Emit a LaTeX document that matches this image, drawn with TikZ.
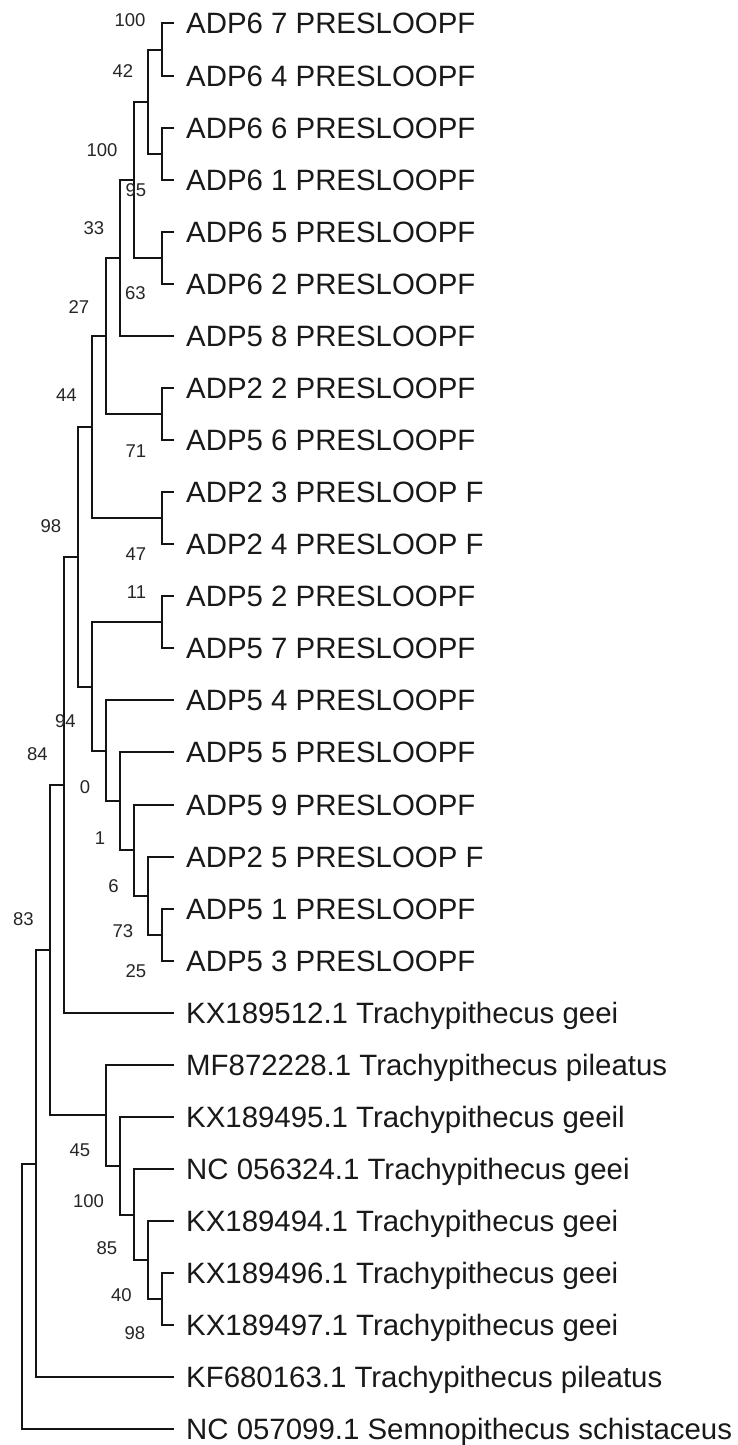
\documentclass[tikz,border=0pt]{standalone}
\usepackage{fontspec}
\setmainfont{Liberation Sans}
\usetikzlibrary{calc}

\tikzset{
  branch/.style={draw=black!92, line width=2pt},
  taxon/.style={anchor=base west, inner sep=0pt,
    font=\fontsize{29.4}{31}\selectfont, text=black!90},
  support/.style={anchor=center, inner sep=0pt,
    font=\fontsize{18.5}{20}\selectfont, text=black!85},
}

% leaf: index, label (tips on a 52.07 pt grid)
\newcommand\mkleaf[2]{%
  \coordinate (t#1) at (174,{23.5+52.07*#1});
  \node[taxon] (l#1) at (186,{34+52.07*#1}) {#2};
}
% clade: name, depth level, first child, second child
\newcommand\mkclade[4]{%
  \path ($(#3)!0.5!(#4)$) coordinate (#1-m);
  \coordinate (#1) at (x#2 |- #1-m);
  \draw[branch] (#1) |- (#3);
  \draw[branch] (#1) |- (#4);
}

\begin{document}
\begin{tikzpicture}[x=1pt,y=-1pt]
\useasboundingbox (0,0) rectangle (738,1445);
\fill[white] (0,0) rectangle (738,1445);

% depth levels of the internal nodes
\foreach \k in {0,...,10} {\coordinate (x\k) at ({21.5+14.02*\k},0);}

% taxa
\mkleaf{0}{ADP6 7 PRESLOOPF}
\mkleaf{1}{ADP6 4 PRESLOOPF}
\mkleaf{2}{ADP6 6 PRESLOOPF}
\mkleaf{3}{ADP6 1 PRESLOOPF}
\mkleaf{4}{ADP6 5 PRESLOOPF}
\mkleaf{5}{ADP6 2 PRESLOOPF}
\mkleaf{6}{ADP5 8 PRESLOOPF}
\mkleaf{7}{ADP2 2 PRESLOOPF}
\mkleaf{8}{ADP5 6 PRESLOOPF}
\mkleaf{9}{ADP2 3 PRESLOOP F}
\mkleaf{10}{ADP2 4 PRESLOOP F}
\mkleaf{11}{ADP5 2 PRESLOOPF}
\mkleaf{12}{ADP5 7 PRESLOOPF}
\mkleaf{13}{ADP5 4 PRESLOOPF}
\mkleaf{14}{ADP5 5 PRESLOOPF}
\mkleaf{15}{ADP5 9 PRESLOOPF}
\mkleaf{16}{ADP2 5 PRESLOOP F}
\mkleaf{17}{ADP5 1 PRESLOOPF}
\mkleaf{18}{ADP5 3 PRESLOOPF}
\mkleaf{19}{KX189512.1 Trachypithecus geei}
\mkleaf{20}{MF872228.1 Trachypithecus pileatus}
\mkleaf{21}{KX189495.1 Trachypithecus geeil}
\mkleaf{22}{NC 056324.1 Trachypithecus geei}
\mkleaf{23}{KX189494.1 Trachypithecus geei}
\mkleaf{24}{KX189496.1 Trachypithecus geei}
\mkleaf{25}{KX189497.1 Trachypithecus geei}
\mkleaf{26}{KF680163.1 Trachypithecus pileatus}
\mkleaf{27}{NC 057099.1 Semnopithecus schistaceus}

% topology
\mkclade{na}{10}{t0}{t1}
\mkclade{nb}{10}{t2}{t3}
\mkclade{nc}{9}{na}{nb}
\mkclade{nd}{10}{t4}{t5}
\mkclade{ne}{8}{nc}{nd}
\mkclade{nf}{7}{ne}{t6}
\mkclade{ng}{10}{t7}{t8}
\mkclade{nh}{6}{nf}{ng}
\mkclade{ni}{10}{t9}{t10}
\mkclade{nj}{5}{nh}{ni}
\mkclade{nk}{10}{t11}{t12}
\mkclade{nl}{10}{t17}{t18}
\mkclade{nm}{9}{t16}{nl}
\mkclade{nn}{8}{t15}{nm}
\mkclade{no}{7}{t14}{nn}
\mkclade{np}{6}{t13}{no}
\mkclade{nq}{5}{nk}{np}
\mkclade{nr}{4}{nj}{nq}
\mkclade{ns}{3}{nr}{t19}
\mkclade{nt}{10}{t24}{t25}
\mkclade{nu}{9}{t23}{nt}
\mkclade{nv}{8}{t22}{nu}
\mkclade{nw}{7}{t21}{nv}
\mkclade{nx}{6}{t20}{nw}
\mkclade{ny}{2}{ns}{nx}
\mkclade{nz}{1}{ny}{t26}
\mkclade{root}{0}{nz}{t27}

% bootstrap support values
\node[support] (b1)  at (130,20)     {100};
\node[support] (b2)  at (123,71.5)   {42};
\node[support] (b3)  at (102,150)    {100};
\node[support] (b4)  at (136,190)    {95};
\node[support] (b5)  at (94,228)     {33};
\node[support] (b6)  at (135.5,293.5){63};
\node[support] (b7)  at (79,307)     {27};
\node[support] (b8)  at (66.5,395)   {44};
\node[support] (b9)  at (136,451.5)  {71};
\node[support] (b10) at (51,526)     {98};
\node[support] (b11) at (136,554)    {47};
\node[support] (b12) at (136.5,592.5){11};
\node[support] (b13) at (65.5,721.5) {94};
\node[support] (b14) at (37.5,754)   {84};
\node[support] (b15) at (85,787)     {0};
\node[support] (b16) at (100,838)    {1};
\node[support] (b17) at (113.5,886)  {6};
\node[support] (b18) at (23.5,919)   {83};
\node[support] (b19) at (123,931)    {73};
\node[support] (b20) at (136,971)    {25};
\node[support] (b21) at (80,1150)    {45};
\node[support] (b22) at (88.5,1201.5){100};
\node[support] (b23) at (107,1248)   {85};
\node[support] (b24) at (121.5,1295) {40};
\node[support] (b25) at (135,1333)   {98};
\end{tikzpicture}
\end{document}
